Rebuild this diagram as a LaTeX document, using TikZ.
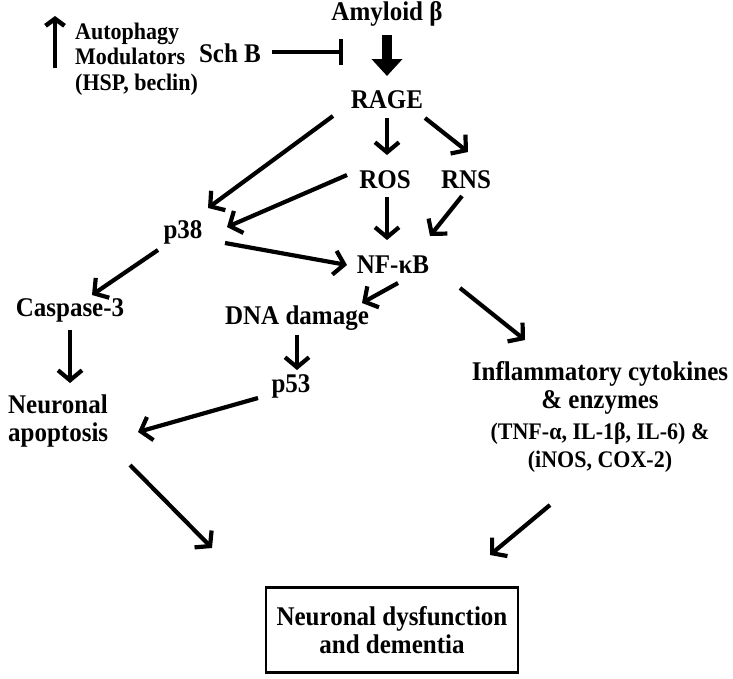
\documentclass[tikz,border=0pt]{standalone}
\usepackage{fontspec}
\setmainfont{Liberation Serif}
\usetikzlibrary{arrows.meta}

\begin{document}
\begin{tikzpicture}
[x=1pt,y=-1pt,
lbl/.style={font=\fontsize{25}{26}\selectfont\bfseries,inner sep=0,yscale=1.08,transform shape},
sml/.style={font=\fontsize{22}{23.5}\selectfont\bfseries,inner sep=0,yscale=1.08,transform shape},
arr/.style={line width=4.2pt,-{Straight Barb[length=10pt,width=24pt]}}]
\useasboundingbox (0,0) rectangle (733,678);
\node[lbl] (amy) at (387,14) {Amyloid β};
\node[lbl] (rage) at (387,100) {RAGE};
\node[lbl] (schb) at (230,53) {Sch B};
\node[sml,align=left,anchor=west] (auto) at (75,59) {Autophagy\\Modulators\\(HSP, beclin)};
\node[lbl] (ros) at (385,180) {ROS};
\node[lbl] (rns) at (466,180) {RNS};
\node[lbl] (p38) at (183,232) {p38};
\node[lbl] (nfkb) at (393,265) {NF-κB};
\node[lbl] (casp) at (70,310) {Caspase-3};
\node[lbl] (dna) at (297,318) {DNA damage};
\node[lbl] (p53) at (291,386) {p53};
\node[lbl,align=left,anchor=west] (apop) at (8,421) {Neuronal\\apoptosis};
\node[lbl,align=center] (infl) at (600,417) {Inflammatory cytokines\\\& enzymes\\[2pt]
  {\fontsize{22}{24}\selectfont (TNF-α, IL-1β, IL-6) \&}\\{\fontsize{22}{24}\selectfont (iNOS, COX-2)}};
\node[lbl,draw,line width=2.8pt,align=center,minimum width=252,minimum height=79] (box) at (392,630) {Neuronal dysfunction\\and dementia};
\coordinate (block) at (343,52);
\coordinate (up0) at (55,68);
\coordinate (up1) at (55,16);

\draw[line width=10pt,-{Triangle[length=17pt,width=30pt]}] ([shift={(0,21)}]amy.center) -- ([shift={(0,-24)}]rage.center);
\draw[line width=4.5pt,-{Bar[width=26pt]}] ([shift={(42,-1)}]schb.center) -- (block);
\draw[line width=4.5pt,-{Straight Barb[length=7pt,width=19pt]}] (up0) -- (up1);

\draw[arr] ([shift={(0,18)}]rage.center) -- ([shift={(2,-25)}]ros.center);
\draw[arr] ([shift={(38,18)}]rage.center) -- ([shift={(2,-28)}]rns.center);
\draw[arr] ([shift={(-54,16)}]rage.center) -- ([shift={(25,-24)}]p38.center);
\draw[arr] ([shift={(-38,-5)}]ros.center) -- ([shift={(44,-5)}]p38.center);
\draw[arr] ([shift={(2,17)}]ros.center) -- ([shift={(-6,-25)}]nfkb.center);
\draw[arr] ([shift={(-4,16)}]rns.center) -- ([shift={(37,-29)}]nfkb.center);
\draw[arr] ([shift={(42,11)}]p38.center) -- ([shift={(-46,0)}]nfkb.center);
\draw[arr] ([shift={(5,18)}]nfkb.center) -- ([shift={(65,-15)}]dna.center);
\draw[arr] ([shift={(67,23)}]nfkb.center) -- ([shift={(-75,-77)}]infl.center);
\draw[arr] ([shift={(-25,18)}]p38.center) -- ([shift={(22,-15)}]casp.center);
\draw[arr] ([shift={(0,20)}]casp.center) -- ([shift={(62,-38)}]apop.west);
\draw[arr] ([shift={(0,17)}]dna.center) -- ([shift={(6,-16)}]p53.center);
\draw[arr] ([shift={(-33,12)}]p53.center) -- ([shift={(130,11)}]apop.west);
\draw[arr] ([shift={(122,44)}]apop.west) -- ([shift={(-180,-82)}]box.center);
\draw[arr] ([shift={(-50,88)}]infl.center) -- ([shift={(98,-75)}]box.center);
\end{tikzpicture}
\end{document}
